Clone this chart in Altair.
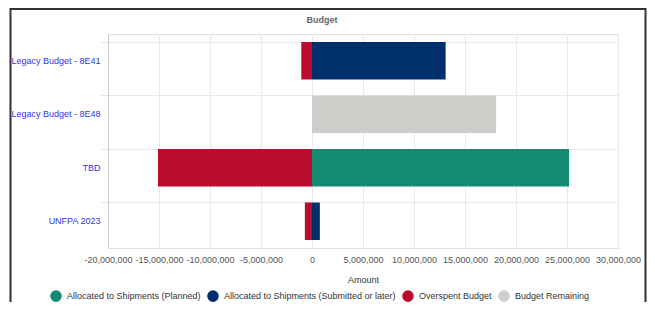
import altair as alt
import pandas as pd

categories = ["Legacy Budget - 8E41", "Legacy Budget - 8E48", "TBD", "UNFPA 2023"]
series = [
    "Allocated to Shipments (Planned)",
    "Allocated to Shipments (Submitted or later)",
    "Overspent Budget",
    "Budget Remaining",
]
planned = [0, 0, 25200000, 0]
submitted = [13100000, 0, 0, 770000]
overspent = [-1050000, 0, -15100000, -700000]
remaining = [0, 18050000, 0, 0]
colors = ["#138a72", "#002f6c", "#ba0c2f", "#cfcdc9"]
x_ticks = [-20000000, -15000000, -10000000, -5000000, 0,
           5000000, 10000000, 15000000, 20000000, 25000000, 30000000]

rows = []
for s, vals in zip(series, [planned, submitted, overspent, remaining]):
    for c, v in zip(categories, vals):
        if v != 0:
            rows.append({"Category": c, "Series": s, "Amount": v})
df = pd.DataFrame(rows)

FONT = "Liberation Sans"

bars = alt.Chart(df).mark_bar().encode(
    y=alt.Y("Category:N", sort=categories,
            scale=alt.Scale(paddingInner=0.3, paddingOuter=0.15),
            axis=alt.Axis(title=None, labelColor="#3333f0", labelFontSize=9,
                          labelFont=FONT, tickSize=7, tickColor="#e4e4e4",
                          labelPadding=1, grid=True, gridColor="#e8e8e8",
                          bandPosition=0, domain=True, domainColor="#cccccc")),
    x=alt.X("Amount:Q", stack="zero",
            scale=alt.Scale(domain=[-20000000, 30000000], nice=False),
            axis=alt.Axis(values=x_ticks, title="Amount",
                          labelExpr="replace(format(datum.value, ',d'), '\u2212', '-')",
                          labelOverlap=False, labelFlush=False,
                          labelFontSize=9, labelFont=FONT, labelColor="#555555",
                          titleFontSize=9, titleFont=FONT, titleColor="#333333",
                          titleFontWeight="normal", ticks=False, labelPadding=7,
                          titlePadding=11, grid=True, gridColor="#e8e8e8",
                          domainColor="#dddddd")),
    color=alt.Color("Series:N", sort=series,
                    scale=alt.Scale(domain=series, range=colors),
                    legend=alt.Legend(title=None, orient="none", direction="horizontal",
                                      legendX=-58, legendY=256, symbolType="circle",
                                      symbolSize=135, symbolStrokeWidth=0,
                                      labelFontSize=9, labelFont=FONT, labelLimit=400,
                                      labelColor="#333333", labelOffset=5,
                                      columnPadding=6, padding=0)),
    order=alt.Order("Series:N"),
)

frame_df = pd.DataFrame({"k": [0]})
frame = alt.Chart(frame_df).mark_rect(fill=None, stroke="#333333", strokeWidth=2).encode(
    x=alt.value(-97.5), x2=alt.value(537.5), y=alt.value(-25), y2=alt.value(300)
)

chart = alt.layer(frame, bars).properties(
    width=510, height=214,
    title=alt.TitleParams("Budget", fontSize=9, font=FONT, fontWeight="bold",
                          color="#666666", anchor="middle", dx=-41, offset=-17),
    autosize=alt.AutoSizeParams(type="none"),
    padding={"left": 100, "top": 26, "right": 29, "bottom": 54},
).configure_view(stroke="#dddddd")

chart.save("out.html", embed_options={"renderer": "svg", "actions": False})
